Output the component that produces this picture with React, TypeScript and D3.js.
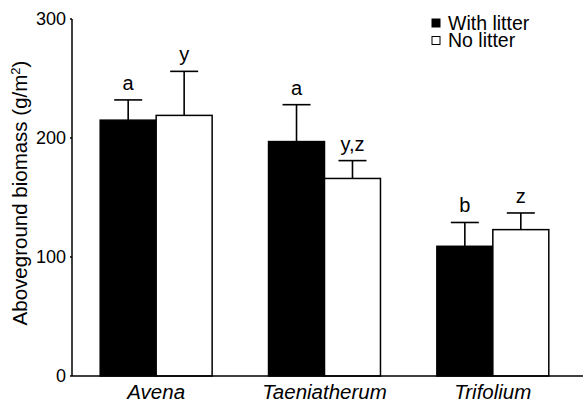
import React from "react";
import * as d3 from "d3";

const categories = ["Avena", "Taeniatherum", "Trifolium"];
const seriesNames = ["With litter", "No litter"];
const withLitter = [215, 197, 109];
const withLitterErr = [232, 228, 129];
const noLitter = [219, 166, 123];
const noLitterErr = [256, 181, 137];
const withLetters = ["a", "a", "b"];
const noLetters = ["y", "y,z", "z"];
const yTicks = [0, 100, 200, 300];

const W = 583;
const H = 404;
const font = "Liberation Sans, Arial, sans-serif";

export default function App() {
  const x = d3.scaleBand<string>().domain(categories).range([72, 577]).paddingInner(0.335).paddingOuter(0.1675);
  const xs = d3.scaleBand<string>().domain(seriesNames).range([0, x.bandwidth()]);
  const y = d3.scaleLinear().domain([0, 300]).range([376, 19]);
  const vals = [withLitter, noLitter];
  const errs = [withLitterErr, noLitterErr];
  const letters = [withLetters, noLetters];
  const fills = ["#000", "#fff"];
  return (
    <svg width={W} height={H} style={{ position: "absolute", left: 0, top: 0, fontFamily: font }}>
      <rect width={W} height={H} fill="#fff" />
      {categories.map((c, i) =>
        seriesNames.map((s, j) => {
          const bx = (x(c) as number) + (xs(s) as number);
          const bw = xs.bandwidth();
          const cx = bx + bw / 2;
          return (
            <g key={c + s}>
              <line x1={cx} x2={cx} y1={y(vals[j][i])} y2={y(errs[j][i])} stroke="#000" strokeWidth={1.6} />
              <line x1={cx - 14} x2={cx + 14} y1={y(errs[j][i])} y2={y(errs[j][i])} stroke="#000" strokeWidth={1.6} />
              <rect x={bx} y={y(vals[j][i])} width={bw} height={y(0) - y(vals[j][i])} fill={fills[j]} stroke="#000" strokeWidth={1.5} />
              <text x={cx} y={y(errs[j][i]) - 10} textAnchor="middle" fontSize={20}>{letters[j][i]}</text>
            </g>
          );
        })
      )}
      <line x1={72} x2={72} y1={y(300)} y2={y(0)} stroke="#000" strokeWidth={1.5} />
      <line x1={72} x2={583} y1={y(0)} y2={y(0)} stroke="#000" strokeWidth={1.5} />
      {yTicks.map((t) => (
        <g key={t}>
          <line x1={70} x2={72} y1={y(t)} y2={y(t)} stroke="#000" strokeWidth={1.5} />
          <text x={66} y={y(t)} dy="0.36em" textAnchor="end" fontSize={18}>{t}</text>
        </g>
      ))}
      {categories.map((c) => (
        <text key={c} x={(x(c) as number) + x.bandwidth() / 2} y={399} textAnchor="middle" fontSize={20.5} fontStyle="italic">{c}</text>
      ))}
      <text transform={`translate(27,193) rotate(-90)`} textAnchor="middle" fontSize={20.5}>
        Aboveground biomass (g/m<tspan dy={-7} fontSize={13}>2</tspan><tspan dy={7}>)</tspan>
      </text>
      {seriesNames.map((s, j) => (
        <g key={s} transform={`translate(432,${19 + j * 17.5})`}>
          <rect x={0} y={0} width={8} height={8} fill={fills[j]} stroke="#000" strokeWidth={1} />
          <text x={16} y={10.5} fontSize={19.5}>{s}</text>
        </g>
      ))}
    </svg>
  );
}
